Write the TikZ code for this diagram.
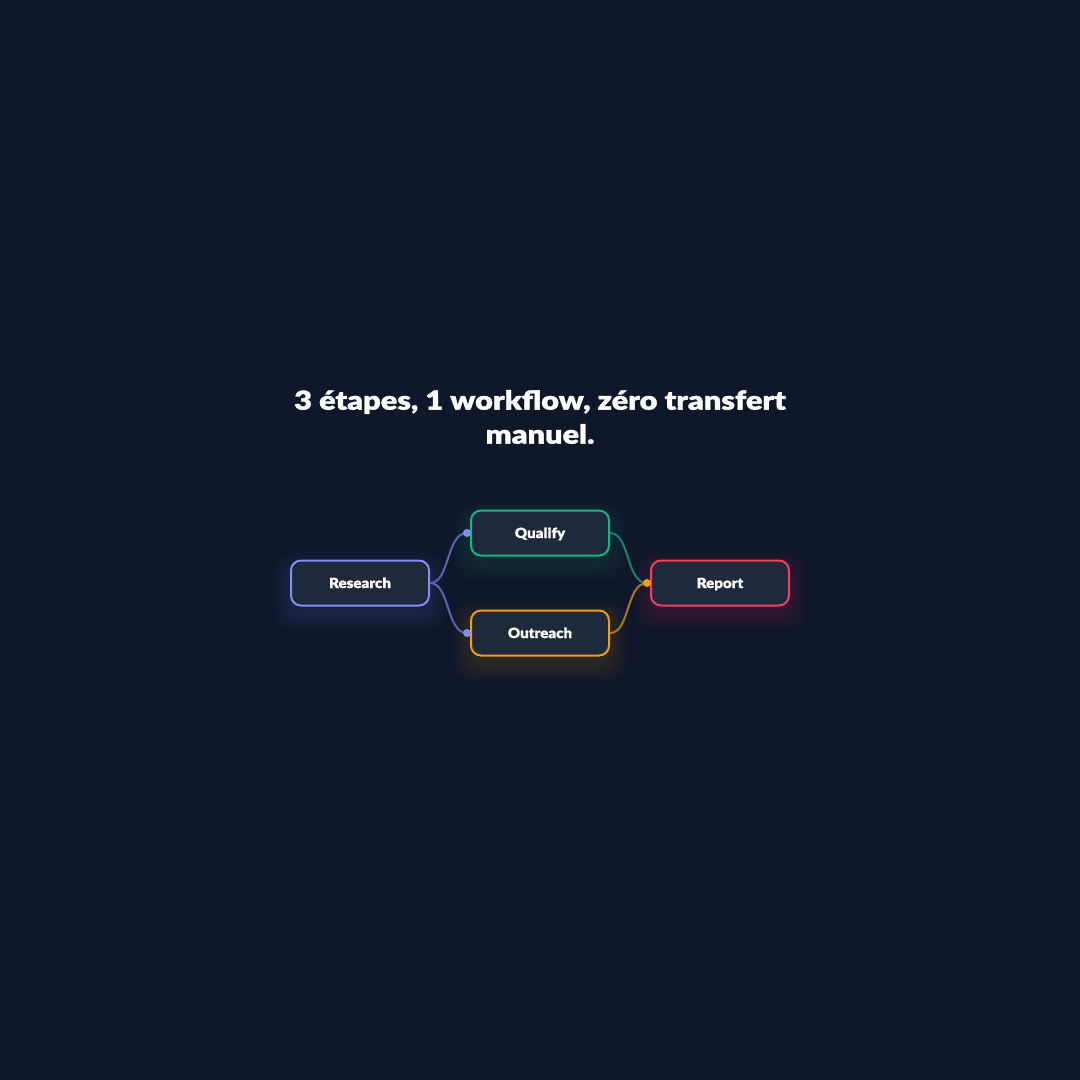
\documentclass[tikz,border=0pt]{standalone}
\usepackage{fontspec}
\setmainfont{Lato}[BoldFont={Lato Black}]
\newfontfamily\headfont{Lato Black}[FakeStretch=1.18, FakeBold=1.4]
\newfontfamily\stagefont{Lato Black}[FakeStretch=1.08, FakeBold=0.8]
\usetikzlibrary{positioning}

\definecolor{bgdark}{HTML}{0F172A}
\definecolor{boxfill}{HTML}{1E293B}
\definecolor{cresearch}{HTML}{818CF8}
\definecolor{cqualify}{HTML}{10B981}
\definecolor{coutreach}{HTML}{F59E0B}
\definecolor{creport}{HTML}{F43F5E}

\tikzset{
	stage/.style={draw=#1, line width=2pt, fill=boxfill, rounded corners=10pt,
		minimum width=138pt, minimum height=45pt, text=white,
		text height=10pt, text depth=0pt,
		font=\stagefont\fontsize{14}{16}\selectfont},
	glow/.style={fill=#1, opacity=0.025, rounded corners=18pt},
	link/.style={line width=2pt, draw=#1},
	port/.style={circle, fill=#1, inner sep=0pt, minimum size=8pt}
}

\begin{document}
\begin{tikzpicture}[x=1pt, y=-1pt]
	\fill[bgdark] (0,0) rectangle (1080,1080);
	\useasboundingbox (0,0) rectangle (1080,1080);

	% soft halo round the boxes
	\foreach \cx/\cy/\col in {360/583/cresearch, 540/533/cqualify, 540/633/coutreach, 720/583/creport} {
		\foreach \g in {2,5,8,11,14,17} {
			\fill[glow=\col] (\cx-69-\g, \cy-22.5-\g+8) rectangle (\cx+69+\g, \cy+22.5+\g+8);
		}
	}

	\node[text=white, align=center, font=\headfont\fontsize{26}{34}\selectfont] (title) at (540,417)
		{3 étapes, 1 workflow, zéro transfert\\manuel.};

	\node[stage=cresearch] (research) at (360,583) {Research};
	\node[stage=cqualify] (qualify) at (540,533) {Qualify};
	\node[stage=coutreach] (outreach) at (540,633) {Outreach};
	\node[stage=creport] (report) at (720,583) {Report};

	\coordinate (inq) at (467,533);
	\coordinate (ino) at (467,633);
	\coordinate (inr) at (647,583);

	\draw[link=cresearch!65!bgdark] (research.east) .. controls (450,583) and (446,533) .. (inq);
	\draw[link=cresearch!65!bgdark] (research.east) .. controls (450,583) and (446,633) .. (ino);
	\draw[link=cqualify!70!bgdark] (qualify.east) .. controls (630,533) and (626,583) .. (inr);
	\draw[link=coutreach!70!bgdark] (outreach.east) .. controls (630,633) and (626,583) .. (inr);

	\node[port=cresearch] at (inq) {};
	\node[port=cresearch] at (ino) {};
	\node[port=coutreach] at (inr) {};
\end{tikzpicture}
\end{document}
